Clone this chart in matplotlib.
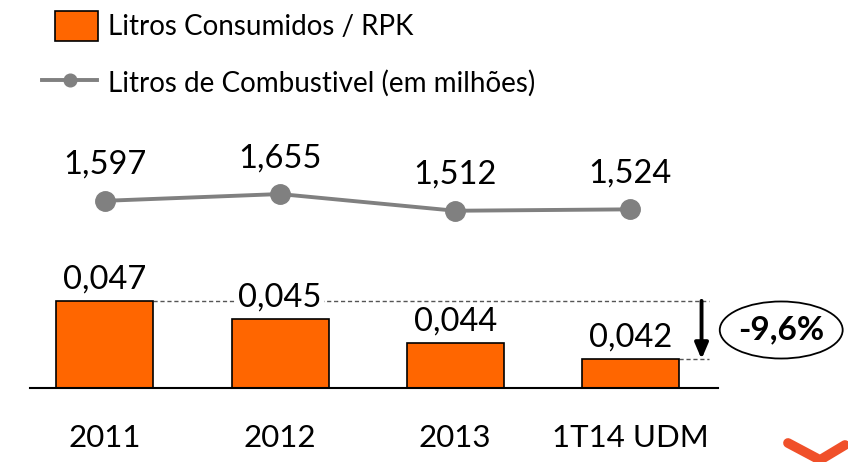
import matplotlib
matplotlib.use('Agg')
import matplotlib.pyplot as plt
from matplotlib.patches import Ellipse, Rectangle
from matplotlib.lines import Line2D
from matplotlib.legend_handler import HandlerPatch

plt.rcParams['font.family'] = ['Lato', 'DejaVu Sans']

# data
periods = ['2011', '2012', '2013', '1T14 UDM']
litros_rpk = [0.0469, 0.0455, 0.0436, 0.0423]
litros_rpk_labels = ['0,047', '0,045', '0,044', '0,042']
litros_comb = [1597, 1655, 1512, 1524]
litros_comb_labels = ['1,597', '1,655', '1,512', '1,524']
variacao_label = '-9,6%'
series_names = ['Litros Consumidos / RPK', 'Litros de Combustivel (em milhões)']

orange = '#FF6600'
gray = '#808080'


def legend_square(legend, orig_handle, xdescent, ydescent, width, height, fontsize):
    # square swatch, narrower than the line handle
    return Rectangle((-xdescent + 9.4, -ydescent), 31, height)


fig = plt.figure(figsize=(8.48, 4.62), dpi=100)
ax = fig.add_axes([30 / 848, 73.7 / 462, 688 / 848, 368.3 / 462])
ax2 = ax.twinx()

x = list(range(len(periods)))
width = 0.554

bars = ax.bar(x, litros_rpk, width=width, color=orange, edgecolor='black',
              linewidth=1.2, zorder=2)
ax.set_ylim(0.040, 0.06906)
ax.set_xlim(-0.428, 3.501)

line, = ax2.plot(x, litros_comb, color=gray, linewidth=2.8, marker='o',
                 markersize=14)
ax2.set_ylim(-8, 3145)

for a in (ax, ax2):
    for side in ('top', 'left', 'right'):
        a.spines[side].set_visible(False)
    a.set_yticks([])
ax2.spines['bottom'].set_visible(False)
ax.spines['bottom'].set_linewidth(1.5)

ax.set_xticks(x)
ax.set_xticklabels(periods, fontsize=22.5)
ax.tick_params(axis='x', length=0, pad=25.5)

# labels on bars (white box hides the dashed guide)
for xi, v, lab in zip(x, litros_rpk, litros_rpk_labels):
    ax.annotate(lab, (xi, v), xytext=(0, 9), textcoords='offset points',
                ha='center', va='baseline', fontsize=23.5, zorder=4,
                bbox=dict(boxstyle='square,pad=0.06', fc='white', ec='none'))

for xi, v, lab in zip(x, litros_comb, litros_comb_labels):
    ax2.annotate(lab, (xi, v), xytext=(0, 19.4), textcoords='offset points',
                 ha='center', va='baseline', fontsize=23.5)

# variation guides
last = len(x) - 1
x_arrow = last + width / 2 + 0.13
ax.hlines(litros_rpk[0], width / 2, x_arrow + 0.04, colors='#555555',
          linestyles=(0, (3, 2)), linewidth=1.0, zorder=1)
ax.hlines(litros_rpk[last], last + width / 2, x_arrow + 0.04, colors='#555555',
          linestyles=(0, (3, 2)), linewidth=1.0, zorder=1)
ax.annotate('', xy=(x_arrow, litros_rpk[last]), xytext=(x_arrow, litros_rpk[0]),
            arrowprops=dict(arrowstyle='-|>,head_length=0.47,head_width=0.2',
                            color='black', lw=2.8, shrinkA=0, shrinkB=0,
                            mutation_scale=20))

y_mid = (litros_rpk[0] + litros_rpk[last]) / 2
ell = Ellipse((last + 0.862, y_mid), 0.702, 0.0045, fc='white', ec='black',
              lw=1.3, clip_on=False, zorder=3)
ax.add_patch(ell)
ax.text(last + 0.862, y_mid, variacao_label, ha='center', va='center',
        fontsize=24, fontweight='bold', zorder=4, clip_on=False)

# legend
bar_handle = bars.patches[0]
fig.legend([bar_handle, line], series_names, loc='upper left',
           bbox_to_anchor=(42 / 848, 1 - 11 / 462),
           frameon=False, fontsize=20, handlelength=1.98, handleheight=1.26,
           handletextpad=0.4, labelspacing=0.97, markerscale=0.65, borderpad=0,
           borderaxespad=0, handler_map={bar_handle: HandlerPatch(patch_func=legend_square)})

# logo corner
fig.add_artist(Line2D([788 / 848, 820 / 848, 845 / 848],
                      [1 - 443 / 462, 1 - 460 / 462, 1 - 445 / 462],
                      color='#F0502A', linewidth=7, solid_capstyle='round'))

fig.savefig('out.png', dpi=100)
